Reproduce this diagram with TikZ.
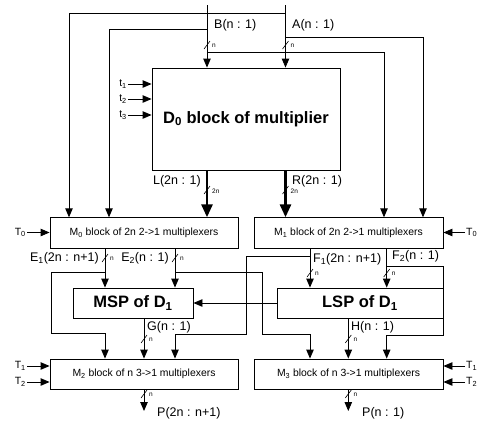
\documentclass[tikz,border=0pt]{standalone}
\usepackage{fontspec}
\setmainfont{Liberation Sans}
\usepackage{tikz}
\usetikzlibrary{arrows.meta}
\tikzstyle{blk} = [draw, line width=0.9pt, inner sep=0pt, font=\fontsize{10.4}{12}\selectfont]
\tikzstyle{big} = [blk, font=\fontsize{16.5}{19}\selectfont\bfseries]
\tikzstyle{sig} = [draw, -{Triangle[length=9pt,width=7.5pt]}, line width=0.9pt]
\tikzstyle{bus} = [draw, -{Triangle[length=13pt,width=11pt]}, line width=2.8pt]
\tikzstyle{lab} = [inner sep=1pt, font=\fontsize{12.5}{14}\selectfont]
\tikzstyle{tlab} = [inner sep=1pt, font=\fontsize{10.5}{12}\selectfont]
\tikzstyle{wlab} = [inner sep=0pt, font=\fontsize{6.5}{8}\selectfont]
% slash on a wire: x, y, node name, width
\newcommand{\busmark}[4]{%
	\draw[line width=0.6pt] (#1,#2) ++(-3,4) -- ++(6,-8);
	\node[wlab, anchor=west] (#3) at (#1+5,#2+1) {#4};}

\begin{document}
\begin{tikzpicture}[x=1pt, y=-1pt]
	\useasboundingbox (0,0) rectangle (480,421);
	% -------------- Blocks --------------
	\node[big, minimum width=188pt, minimum height=102pt] (d0)  at (246,119)   {D\textsubscript{0} block of multiplier};
	\node[blk, minimum width=188pt, minimum height=30.5pt] (m0) at (144,233)   {M\textsubscript{0} block of 2n 2->1 multiplexers};
	\node[blk, minimum width=189pt, minimum height=30.5pt] (m1) at (348.5,233) {M\textsubscript{1} block of 2n 2->1 multiplexers};
	\node[big, minimum width=120pt, minimum height=30pt]   (msp) at (133,303)  {MSP of D\textsubscript{1}};
	\node[big, minimum width=166pt, minimum height=30pt]   (lsp) at (360,303)  {LSP of D\textsubscript{1}};
	\node[blk, minimum width=188pt, minimum height=30pt]   (m2) at (144,374)   {M\textsubscript{2} block of n 3->1 multiplexers};
	\node[blk, minimum width=189pt, minimum height=30pt]   (m3) at (348.5,374) {M\textsubscript{3} block of n 3->1 multiplexers};
	% -------------- Inputs A, B --------------
	\coordinate (bTop) at (207,5);
	\coordinate (aTop) at (285.5,5);
	\coordinate (aL) at (69,13);
	\coordinate (bL) at (109,29);
	\coordinate (aR) at (423,37);
	\coordinate (bR) at (384,52);
	\draw[sig] (bTop) -- (bTop |- d0.north);
	\draw[sig] (aTop) -- (aTop |- d0.north);
	\draw[sig] (aTop |- aL) -- (aL) -- (aL |- m0.north);
	\draw[sig] (bTop |- bL) -- (bL) -- (bL |- m0.north);
	\draw[sig] (aTop |- aR) -- (aR) -- (aR |- m1.north);
	\draw[sig] (bTop |- bR) -- (bR) -- (bR |- m1.north);
	\node[lab, anchor=west] (bLab) at (213,25.5) {B(n : 1)};
	\node[lab, anchor=west] (aLab) at (291,25.5) {A(n : 1)};
	\busmark{207}{45}{bW}{n}
	\busmark{285.5}{45}{aW}{n}
	% -------------- Control inputs --------------
	\node[tlab, anchor=east] (t1) at (128,84)  {t\textsubscript{1}};
	\node[tlab, anchor=east] (t2) at (128,99)  {t\textsubscript{2}};
	\node[tlab, anchor=east] (t3) at (128,115) {t\textsubscript{3}};
	\draw[sig] (t1.east) -- (t1.east -| d0.west);
	\draw[sig] (t2.east) -- (t2.east -| d0.west);
	\draw[sig] (t3.east) -- (t3.east -| d0.west);
	\node[tlab, anchor=east] (T0l) at (27,232.5)  {T\textsubscript{0}};
	\node[tlab, anchor=west] (T0r) at (465,232.5) {T\textsubscript{0}};
	\draw[sig] (T0l.east) -- (T0l.east -| m0.west);
	\draw[sig] (T0r.west) -- (T0r.west -| m1.east);
	\node[tlab, anchor=east] (T1l) at (27,366) {T\textsubscript{1}};
	\node[tlab, anchor=east] (T2l) at (27,382) {T\textsubscript{2}};
	\node[tlab, anchor=west] (T1r) at (465,366) {T\textsubscript{1}};
	\node[tlab, anchor=west] (T2r) at (465,382) {T\textsubscript{2}};
	\draw[sig] (T1l.east) -- (T1l.east -| m2.west);
	\draw[sig] (T2l.east) -- (T2l.east -| m2.west);
	\draw[sig] (T1r.west) -- (T1r.west -| m3.east);
	\draw[sig] (T2r.west) -- (T2r.west -| m3.east);
	% -------------- L, R --------------
	\draw[bus] (bTop |- d0.south) -- (bTop |- m0.north);
	\draw[bus] (aTop |- d0.south) -- (aTop |- m1.north);
	\node[lab, anchor=east] (lLab) at (202,181) {L(2n : 1)};
	\node[lab, anchor=west] (rLab) at (291,181) {R(2n : 1)};
	\busmark{207}{190}{lW}{2n}
	\busmark{285.5}{190}{rW}{2n}
	% -------------- E, F --------------
	\coordinate (e1) at (105,258);
	\coordinate (e2) at (175,258);
	\coordinate (f1) at (310,273);
	\coordinate (f2) at (386.7,273);
	\draw[sig] (e1 |- m0.south) -- (e1 |- msp.north);
	\draw[sig] (e2 |- m0.south) -- (e2 |- msp.north);
	\draw[sig] (f1 |- m1.south) -- (f1 |- lsp.north);
	\draw[sig] (f2 |- m1.south) -- (f2 |- lsp.north);
	\node[lab, anchor=east] (e1Lab) at (100,258) {E\textsubscript{1}(2n : n+1)};
	\node[lab, anchor=east] (e2Lab) at (170,258) {E\textsubscript{2}(n : 1)};
	\node[lab, anchor=west] (f1Lab) at (312,259) {F\textsubscript{1}(2n : n+1)};
	\node[lab, anchor=west] (f2Lab) at (391,256) {F\textsubscript{2}(n : 1)};
	\busmark{105}{258}{e1W}{n}
	\busmark{175}{258}{e2W}{n}
	\busmark{310}{273}{f1W}{n}
	\busmark{386.7}{273}{f2W}{n}
	% -------------- Branches to M2, M3 --------------
	\coordinate (e1j) at (105,272);   \coordinate (e1k) at (51,333);
	\coordinate (e2j) at (175,272);   \coordinate (e2k) at (262,334);
	\coordinate (f1j) at (310,256);   \coordinate (f1k) at (246.5,334);
	\coordinate (f2j) at (386.7,266.7); \coordinate (f2k) at (443,335);
	\draw[sig] (e1j) -| (e1k) -| (e1 |- m2.north);
	\draw[sig] (e2j) -| (e2k) -| (f1 |- m3.north);
	\draw[sig] (f1j) -| (f1k) -| (e2 |- m2.north);
	\draw[sig] (f2j) -| (f2k) -| (f2 |- m3.north);
	% -------------- G, H --------------
	\draw[sig] (lsp.west) -- (msp.east);
	\coordinate (g) at (144,339);
	\coordinate (h) at (348.3,339);
	\draw[sig] (g |- msp.south) -- (g |- m2.north);
	\draw[sig] (h |- lsp.south) -- (h |- m3.north);
	\node[lab, anchor=west] (gLab) at (146,327) {G(n : 1)};
	\node[lab, anchor=west] (hLab) at (350,327) {H(n : 1)};
	\busmark{144}{339}{gW}{n}
	\busmark{348.3}{339}{hW}{n}
	% -------------- Outputs --------------
	\coordinate (pL) at (144,411);
	\coordinate (pR) at (348.3,411);
	\draw[sig] (pL |- m2.south) -- (pL);
	\draw[sig] (pR |- m3.south) -- (pR);
	\node[lab, anchor=west] (pLLab) at (156,413) {P(2n : n+1)};
	\node[lab, anchor=west] (pRLab) at (361,413) {P(n : 1)};
	\busmark{144}{394}{pLW}{n}
	\busmark{348.3}{394}{pRW}{n}
\end{tikzpicture}
\end{document}
